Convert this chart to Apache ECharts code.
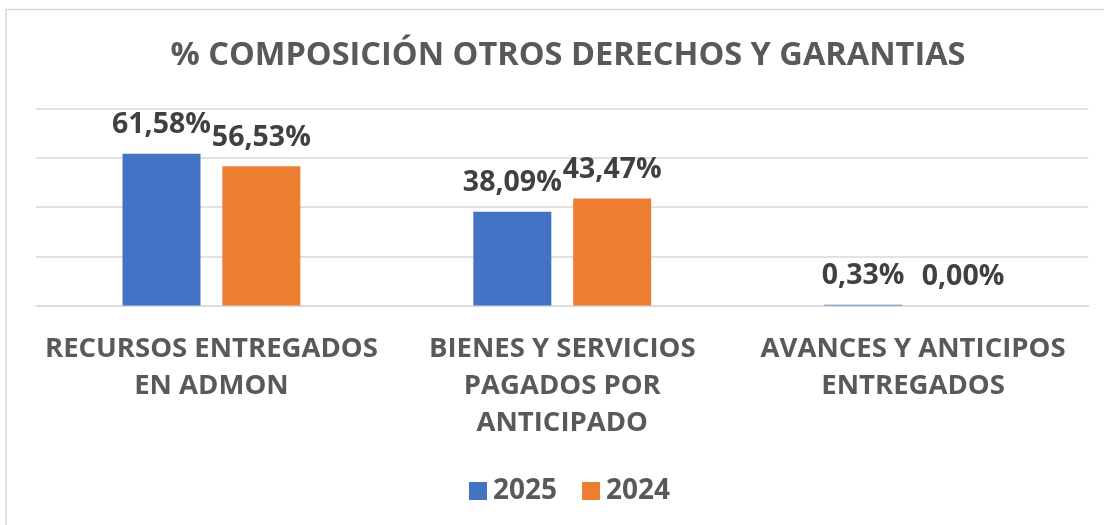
<!DOCTYPE html>
<html>
<head>
<meta charset="utf-8">
<script src="https://cdn.jsdelivr.net/npm/echarts@6/dist/echarts.min.js"></script>
<style>
  html, body { margin: 0; padding: 0; background: #fff; }
  #chart { width: 1104px; height: 525px; }
</style>
</head>
<body>
<div id="chart"></div>
<script>
// datos
var categorias = ['RECURSOS ENTREGADOS\nEN ADMON', 'BIENES Y SERVICIOS\nPAGADOS POR\nANTICIPADO', 'AVANCES Y ANTICIPOS\nENTREGADOS'];
var valores2025 = [61.58, 38.09, 0.33];
var valores2024 = [56.53, 43.47, 0.00];
var ejeY = { min: 0, max: 80, interval: 20 };

var fuente = 'Open Sans';

function etiqueta(p) {
    return p.value.toFixed(2).replace('.', ',') + '%';
}

var labelTop = {
    show: true,
    position: 'top',
    distance: 14,
    formatter: etiqueta,
    color: '#404040',
    fontFamily: fuente,
    fontWeight: 'bold',
    fontSize: 28.5
};

var chart = echarts.init(document.getElementById('chart'));
chart.setOption({
    animation: false,
    title: {
        text: '% COMPOSICIÓN OTROS DERECHOS Y GARANTIAS',
        left: 563,
        top: 34,
        textAlign: 'center',
        textStyle: {
            color: '#595959',
            fontFamily: fuente,
            fontWeight: 'bold',
            fontSize: 32.5
        }
    },
    legend: {
        left: 464,
        top: 472,
        itemWidth: 18,
        itemHeight: 18,
        itemGap: 25,
        icon: 'rect',
        textStyle: {
            color: '#595959',
            fontFamily: fuente,
            fontWeight: 'bold',
            fontSize: 28,
            padding: [0, 0, 0, 1]
        },
        data: ['2025', '2024']
    },
    grid: {
        left: 36,
        right: 15.5,
        top: 108.5,
        bottom: 219.5
    },
    xAxis: {
        type: 'category',
        data: categorias,
        axisLine: { lineStyle: { color: '#D9D9D9', width: 1.5 } },
        axisTick: { show: false },
        axisLabel: {
            interval: 0,
            margin: 25,
            color: '#595959',
            fontFamily: fuente,
            fontWeight: 'bold',
            fontSize: 27.5,
            lineHeight: 37
        }
    },
    yAxis: {
        type: 'value',
        min: ejeY.min,
        max: ejeY.max,
        interval: ejeY.interval,
        axisLabel: { show: false },
        axisLine: { show: false },
        axisTick: { show: false },
        splitLine: { lineStyle: { color: '#D9D9D9', width: 1.5 } }
    },
    series: [
        {
            name: '2025',
            type: 'bar',
            data: valores2025,
            barWidth: 78,
            barGap: '28%',
            itemStyle: { color: '#4472C4' },
            label: labelTop
        },
        {
            name: '2024',
            type: 'bar',
            data: valores2024,
            barWidth: 78,
            itemStyle: { color: '#ED7D31' },
            label: labelTop
        }
    ],
    graphic: [
        {
            type: 'rect',
            shape: { x: 6, y: 9.5, width: 1200, height: 600 },
            style: { fill: null, stroke: '#D9D9D9', lineWidth: 1.5 },
            silent: true
        }
    ]
});
</script>
</body>
</html>
